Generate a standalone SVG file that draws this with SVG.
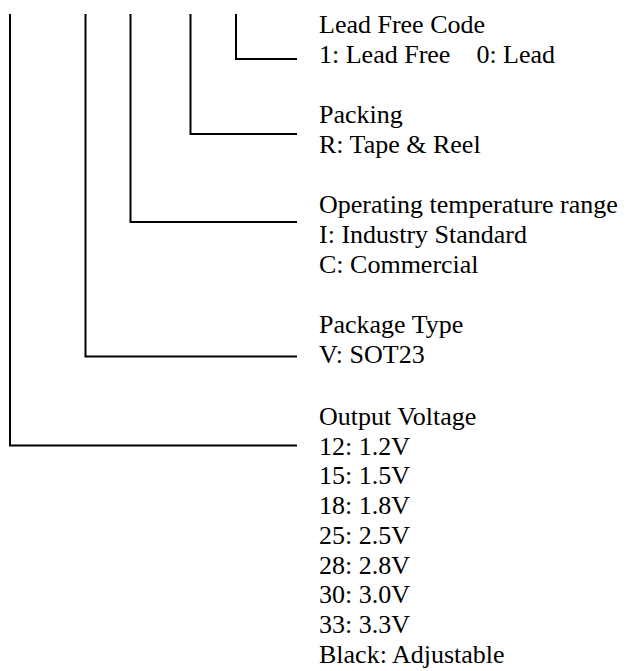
<svg xmlns="http://www.w3.org/2000/svg" width="628" height="671" viewBox="0 0 628 671">
<style>
.c{fill:none;stroke:#000;stroke-width:2}
text{font-family:"Liberation Serif","Times New Roman",serif;font-size:26px;fill:#000}
</style>
<rect width="628" height="671" fill="#fff"/>
<g id="connectors">
<polyline class="c" points="236,14 236,59 297,59"/>
<polyline class="c" points="190.5,14 190.5,134 297,134"/>
<polyline class="c" points="130.5,14 130.5,222 297,222"/>
<polyline class="c" points="85.5,14 85.5,356.5 297,356.5"/>
<polyline class="c" points="10,14 10,445.5 297,445.5"/>
</g>
<g id="lead-free">
<text x="319" y="33">Lead Free Code</text>
<text x="319" y="63" xml:space="preserve">1: Lead Free    0: Lead</text>
</g>
<g id="packing">
<text x="319" y="123">Packing</text>
<text x="319" y="153">R: Tape &amp; Reel</text>
</g>
<g id="temperature">
<text x="319" y="213">Operating temperature range</text>
<text x="319" y="243">I: Industry Standard</text>
<text x="319" y="273">C: Commercial</text>
</g>
<g id="package">
<text x="319" y="333">Package Type</text>
<text x="319" y="363">V: SOT23</text>
</g>
<g id="voltage">
<text x="319" y="425">Output Voltage</text>
<text x="319" y="454.5">12: 1.2V</text>
<text x="319" y="484">15: 1.5V</text>
<text x="319" y="514">18: 1.8V</text>
<text x="319" y="544">25: 2.5V</text>
<text x="319" y="573.5">28: 2.8V</text>
<text x="319" y="603">30: 3.0V</text>
<text x="319" y="633">33: 3.3V</text>
<text x="319" y="663">Black: Adjustable</text>
</g>
</svg>
